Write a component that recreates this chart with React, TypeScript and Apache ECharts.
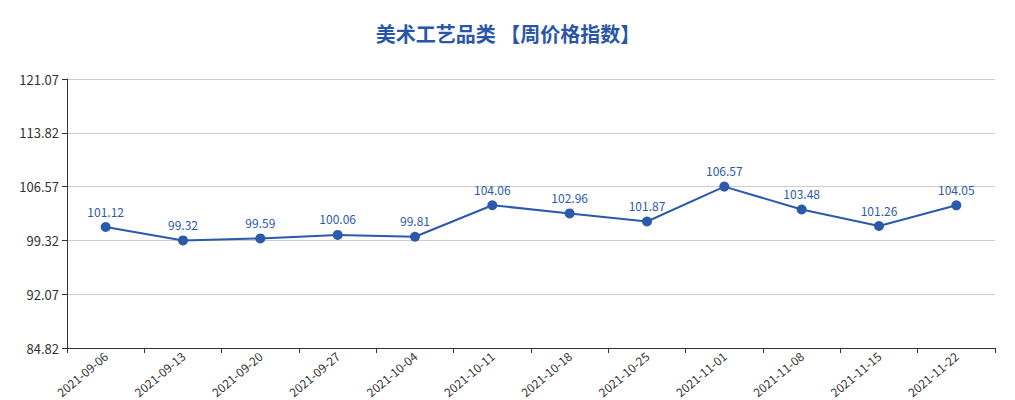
import * as echarts from 'echarts';
import { useEffect, useRef } from 'react';

const weeks = [
  '2021-09-06', '2021-09-13', '2021-09-20', '2021-09-27', '2021-10-04', '2021-10-11',
  '2021-10-18', '2021-10-25', '2021-11-01', '2021-11-08', '2021-11-15', '2021-11-22',
];
const priceIndex = [101.12, 99.32, 99.59, 100.06, 99.81, 104.06, 102.96, 101.87, 106.57, 103.48, 101.26, 104.05];
const yMin = 84.82;
const yMax = 121.07;
const yStep = 7.25;

const FONT = '"Noto Sans CJK SC", "Noto Sans", sans-serif';

export default function App() {
  const chartRef = useRef<HTMLDivElement>(null);

  useEffect(() => {
    if (!chartRef.current) return;
    const chart = echarts.init(chartRef.current, undefined, { renderer: 'svg' });

    const option: any = {
      animation: false,
      textStyle: { fontFamily: FONT },
      title: {
        text: '美术工艺品类 【周价格指数】',
        left: 'center',
        top: 10,
        textStyle: { color: '#2a56a8', fontSize: 20, fontWeight: 'bold', fontFamily: FONT },
      },
      grid: { left: 59, right: 13, top: 71, bottom: 52, outerBoundsMode: 'none', containLabel: false },
      xAxis: {
        type: 'category',
        data: weeks,
        boundaryGap: true,
        axisLine: { lineStyle: { color: '#333' } },
        axisTick: { show: true, lineStyle: { color: '#333' } },
        axisLabel: { rotate: 40, color: '#333', fontSize: 12, interval: 0, margin: 6 },
      },
      yAxis: {
        type: 'value',
        min: yMin,
        max: yMax,
        interval: yStep,
        axisLine: { show: true, lineStyle: { color: '#333' } },
        axisTick: { show: true, lineStyle: { color: '#333' } },
        axisLabel: { color: '#333', fontSize: 13, formatter: (v: number) => v.toFixed(2) },
        splitLine: { lineStyle: { color: '#ccc' } },
      },
      series: [
        {
          type: 'line',
          data: priceIndex,
          symbol: 'circle',
          symbolSize: 10,
          itemStyle: { color: '#2b59ab' },
          lineStyle: { color: '#2b59ab', width: 2 },
          label: {
            show: true,
            position: 'top',
            color: '#2b59ab',
            fontSize: 12,
            formatter: (p: any) => Number(p.value).toFixed(2),
          },
        },
      ],
    };

    chart.setOption(option);
    return () => chart.dispose();
  }, []);

  return <div ref={chartRef} style={{ width: 1000, height: 392 }} />;
}
